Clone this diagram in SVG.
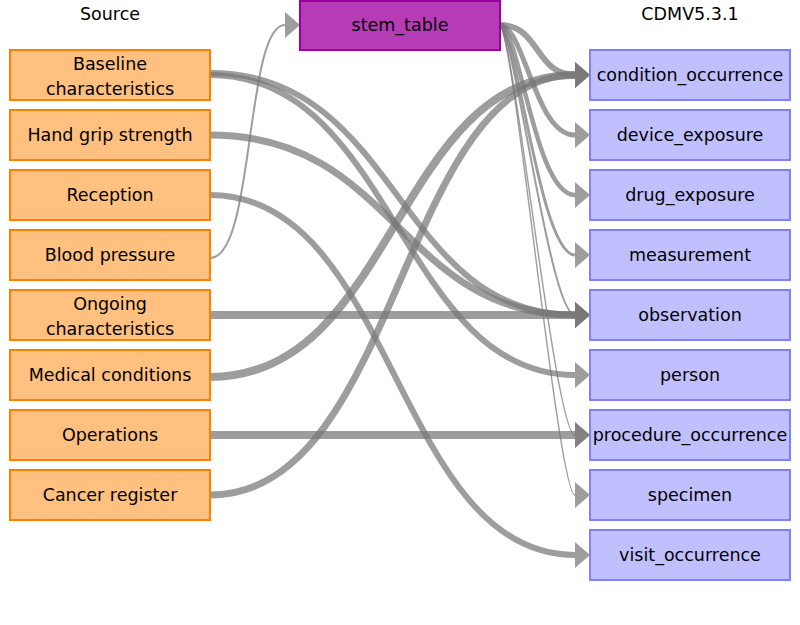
<svg xmlns="http://www.w3.org/2000/svg" width="800" height="625" viewBox="0 0 800 625">
<style>
.src rect{fill:#FFC080;stroke:#FF8000;stroke-width:2}
.tgt rect{fill:#C0C0FF;stroke:#8080FF;stroke-width:2}
.stem rect{fill:#B63CB6;stroke:#9C00A4;stroke-width:2}
text{font-family:"DejaVu Sans","Liberation Sans",sans-serif;font-size:17.5px;fill:#000;text-anchor:middle}
.edges path{fill:none;stroke:#777;stroke-opacity:0.72;marker-end:url(#ah)}
</style>
<defs>
<marker id="ah" markerUnits="userSpaceOnUse" markerWidth="16" markerHeight="28" viewBox="0 -14 16 28" refX="0" refY="0" orient="auto" overflow="visible">
<path d="M0,-13 L15,0 L0,13 Z" fill="#777" fill-opacity="0.72"/>
</marker>
</defs>
<rect width="800" height="625" fill="#fff"/>
<text x="110" y="20">Source</text>
<text x="690" y="20">CDMV5.3.1</text>
<g class="edges">
<path d="M210,73 C400,73 395,315 575,315" stroke-width="6"/>
<path d="M210,75 C395,75 400,375 575,375" stroke-width="6"/>
<path d="M210,135 C395,135 400,315 575,315" stroke-width="7"/>
<path d="M210,195 C395,195 395,555 575,555" stroke-width="6"/>
<path d="M210,258 C255,258 245,25 285,25" stroke-width="2"/>
<path d="M210,315 L575,315" stroke-width="8"/>
<path d="M210,377 C395,377 395,75 575,75" stroke-width="8"/>
<path d="M210,435 L575,435" stroke-width="8"/>
<path d="M210,495 C400,495 400,75 575,75" stroke-width="7"/>
<path d="M500,25 C540,25 535,75 575,75" stroke-width="6"/>
<path d="M500,25 C525,28 535,135 575,135" stroke-width="5"/>
<path d="M500,25 C520,30 535,195 575,195" stroke-width="4.5"/>
<path d="M500,25 C518,35 540,255 575,255" stroke-width="3"/>
<path d="M500,25 C516,40 550,315 575,315" stroke-width="2"/>
<path d="M500,25 C515,40 555,435 575,435" stroke-width="1.4"/>
<path d="M500,25 C515,40 558,495 575,495" stroke-width="1.4"/>
</g>
<g id="stem_table" class="stem"><rect x="300" y="1" width="200" height="49"/><text x="400" y="31">stem_table</text></g>
<g id="src_baseline" class="src"><rect x="10" y="50" width="200" height="50"/><text x="110" y="69.5">Baseline</text><text x="110" y="94.5">characteristics</text></g>
<g id="src_handgrip" class="src"><rect x="10" y="110" width="200" height="50"/><text x="110" y="141">Hand grip strength</text></g>
<g id="src_reception" class="src"><rect x="10" y="170" width="200" height="50"/><text x="110" y="201">Reception</text></g>
<g id="src_bp" class="src"><rect x="10" y="230" width="200" height="50"/><text x="110" y="261">Blood pressure</text></g>
<g id="src_ongoing" class="src"><rect x="10" y="290" width="200" height="50"/><text x="110" y="309.5">Ongoing</text><text x="110" y="334.5">characteristics</text></g>
<g id="src_medical" class="src"><rect x="10" y="350" width="200" height="50"/><text x="110" y="381">Medical conditions</text></g>
<g id="src_operations" class="src"><rect x="10" y="410" width="200" height="50"/><text x="110" y="441">Operations</text></g>
<g id="src_cancer" class="src"><rect x="10" y="470" width="200" height="50"/><text x="110" y="501">Cancer register</text></g>
<g id="t_condition" class="tgt"><rect x="590" y="50" width="200" height="50"/><text x="690" y="81">condition_occurrence</text></g>
<g id="t_device" class="tgt"><rect x="590" y="110" width="200" height="50"/><text x="690" y="141">device_exposure</text></g>
<g id="t_drug" class="tgt"><rect x="590" y="170" width="200" height="50"/><text x="690" y="201">drug_exposure</text></g>
<g id="t_measurement" class="tgt"><rect x="590" y="230" width="200" height="50"/><text x="690" y="261">measurement</text></g>
<g id="t_observation" class="tgt"><rect x="590" y="290" width="200" height="50"/><text x="690" y="321">observation</text></g>
<g id="t_person" class="tgt"><rect x="590" y="350" width="200" height="50"/><text x="690" y="381">person</text></g>
<g id="t_procedure" class="tgt"><rect x="590" y="410" width="200" height="50"/><text x="690" y="441">procedure_occurrence</text></g>
<g id="t_specimen" class="tgt"><rect x="590" y="470" width="200" height="50"/><text x="690" y="501">specimen</text></g>
<g id="t_visit" class="tgt"><rect x="590" y="530" width="200" height="50"/><text x="690" y="561">visit_occurrence</text></g>
</svg>
